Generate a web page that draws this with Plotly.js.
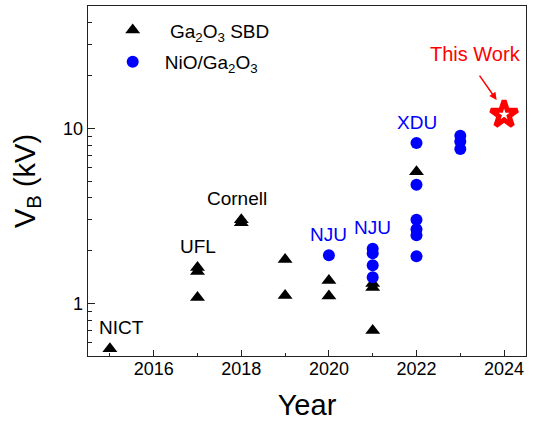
<!DOCTYPE html>
<html>
<head>
<meta charset="utf-8">
<script src="https://cdn.plot.ly/plotly-3.0.1.min.js"></script>
<style>
  html, body { margin: 0; padding: 0; background: #fff; }
  #chart { width: 533px; height: 425px; }
</style>
</head>
<body>
<div id="chart"></div>
<script>
// Breakdown voltage of Ga2O3 power diodes by publication year
const sbdYear = [2015, 2017, 2017, 2017, 2018, 2018, 2019, 2019, 2020, 2020, 2021, 2021, 2021, 2022];
const sbdVB   = [0.55, 1.60, 1.52, 1.08, 3.00, 2.89, 1.78, 1.11, 1.35, 1.10, 1.30, 1.23, 0.70, 5.65];

const hjYear = [2020, 2021, 2021, 2021, 2021, 2022, 2022, 2022, 2022, 2022, 2022, 2023, 2023, 2023];
const hjVB   = [1.88, 2.05, 1.93, 1.65, 1.41, 8.24, 4.76, 3.00, 2.65, 2.45, 1.86, 9.06, 8.41, 7.61];

const thisYear = [2024];
const thisVB   = [12.0];

const groupLabels = ['NICT', 'UFL', 'Cornell', 'NJU', 'NJU', 'XDU'];
const labelYear   = [2015, 2017, 2018, 2020, 2021, 2022];
const labelVB     = [0.55, 1.60, 3.00, 1.88, 2.05, 8.24];
const labelColor  = ['black', 'black', 'black', 'blue', 'blue', 'blue'];

const xTicks = [2016, 2018, 2020, 2022, 2024];
const xMinor = [2015, 2017, 2019, 2021, 2023];
const yTicks = [1, 10];
const yMinor = [0.6, 0.7, 0.8, 0.9, 2, 3, 4, 5, 6, 7, 8, 9, 20, 30, 40, 50];

const FONT = 'Arial, "Liberation Sans", sans-serif';

const traces = [
  {
    x: sbdYear, y: sbdVB, type: 'scatter', mode: 'markers',
    name: '\u00a0Ga<sub>2</sub>O<sub>3</sub> SBD', legendgroup: 'sbd',
    marker: { symbol: 'triangle-up', size: 13, color: 'black' }
  },
  {
    x: hjYear, y: hjVB, type: 'scatter', mode: 'markers',
    name: 'NiO/Ga<sub>2</sub>O<sub>3</sub>', legendgroup: 'hj',
    marker: { symbol: 'circle', size: 12, color: '#0000ff' }
  },
  {
    x: thisYear, y: thisVB, type: 'scatter', mode: 'markers',
    name: 'This Work', showlegend: false,
    marker: { symbol: 'star', size: 20, color: 'white', line: { color: '#ff0000', width: 5 } }
  }
];

const annotations = groupLabels.map((t, i) => ({
  x: labelYear[i], y: Math.log10(labelVB[i]), xref: 'x', yref: 'y',
  text: t, showarrow: false, yshift: 21, xshift: i === 0 ? 12 : (i === 2 ? -4 : 0),
  font: { family: FONT, size: 19, color: labelColor[i] }
}));

annotations.push({
  x: thisYear[0], y: Math.log10(thisVB[0]), xref: 'x', yref: 'y',
  text: 'This Work', showarrow: false, xshift: -29, yshift: 60,
  font: { family: FONT, size: 20, color: '#ff0000' }
});
annotations.push({
  x: 2023.83, y: Math.log10(14.5), xref: 'x', yref: 'y',
  ax: 2023.415, ay: Math.log10(20.4), axref: 'x', ayref: 'y',
  text: '', showarrow: true, arrowhead: 2, arrowsize: 1, arrowwidth: 1.5,
  arrowcolor: '#ff0000', standoff: 0
});

const layout = {
  width: 533, height: 425,
  margin: { l: 88, r: 7, t: 6, b: 69 },
  paper_bgcolor: 'white', plot_bgcolor: 'white',
  font: { family: FONT, color: 'black' },
  showlegend: true,
  legend: {
    x: 0.029, y: 0.985, xanchor: 'left', yanchor: 'top',
    bgcolor: 'rgba(0,0,0,0)', font: { family: FONT, size: 19 },
    itemwidth: 54, tracegroupgap: 4
  },
  xaxis: {
    range: [2014.5, 2024.5],
    tickmode: 'array', tickvals: xTicks, ticktext: xTicks.map(String),
    ticks: 'inside', ticklen: 6, tickwidth: 1, tickcolor: '#222',
    minor: { tickvals: xMinor, ticks: 'inside', ticklen: 3, tickwidth: 1, tickcolor: '#222' },
    showgrid: false, zeroline: false,
    showline: true, linecolor: '#222', linewidth: 1.3, mirror: true,
    tickfont: { family: FONT, size: 18 }, ticklabelstandoff: -4,
    title: { text: 'Year', font: { family: FONT, size: 29 }, standoff: 16 }
  },
  yaxis: {
    type: 'log', range: [Math.log10(0.5), Math.log10(50)],
    tickmode: 'array', tickvals: yTicks, ticktext: yTicks.map(String),
    ticks: 'inside', ticklen: 7, tickwidth: 1, tickcolor: '#222',
    minor: { tickvals: yMinor, ticks: 'inside', ticklen: 4, tickwidth: 1, tickcolor: '#222' },
    showgrid: false, zeroline: false,
    showline: true, linecolor: '#222', linewidth: 1.3, mirror: true,
    tickfont: { family: FONT, size: 18 },
    title: { text: 'V<sub>B</sub> (kV)', font: { family: FONT, size: 29 }, standoff: 19 }
  },
  annotations: annotations
};

Plotly.newPlot('chart', traces, layout, { displayModeBar: false, staticPlot: true });
</script>
</body>
</html>
